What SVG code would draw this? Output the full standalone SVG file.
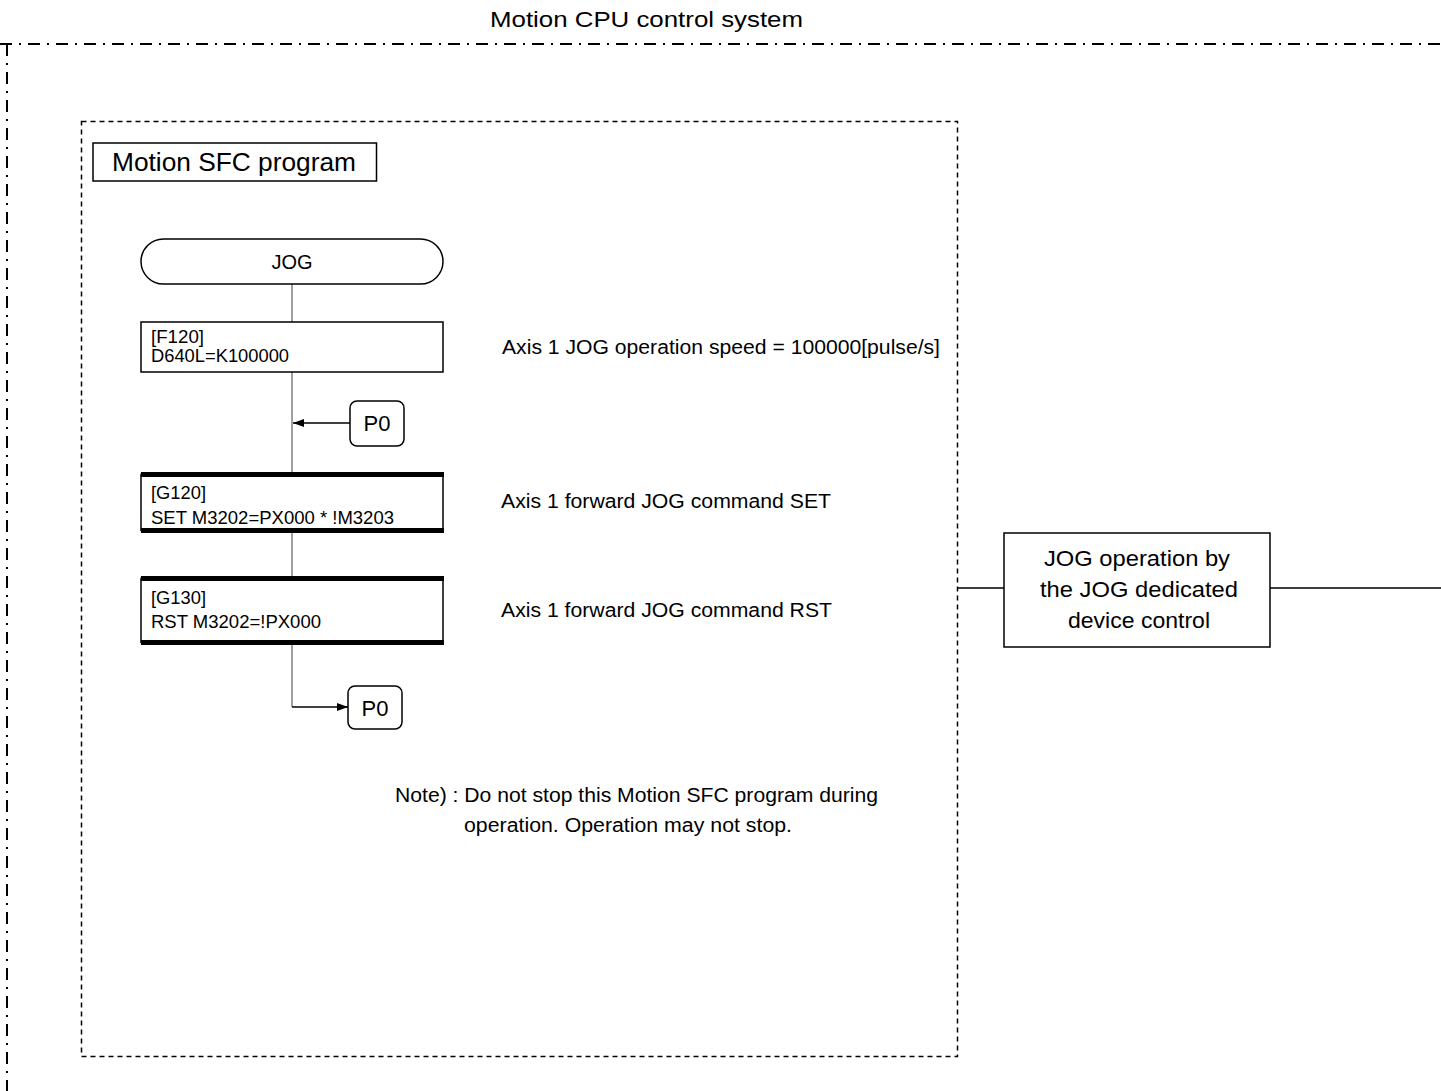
<svg xmlns="http://www.w3.org/2000/svg" width="1441" height="1091" viewBox="0 0 1441 1091">
<style>
text{font-family:"Liberation Sans",Arial,sans-serif;fill:#000}
.box{fill:#fff;stroke:#000;stroke-width:1.5}
.flow{stroke:#808080;stroke-width:1.5;fill:none}
.arr{stroke:#000;stroke-width:1.5;fill:none}
.bar{fill:#000}
.t18{font-size:18px}
.t20{font-size:20px}
.t22{font-size:22px}
</style>
<defs>
<marker id="ah" viewBox="0 0 11 8" refX="11" refY="4" markerWidth="11" markerHeight="8" markerUnits="userSpaceOnUse" orient="auto"><path d="M0,0 L11,4 L0,8 z" fill="#000"/></marker>
</defs>
<g id="frames">
<text x="490" y="27" class="t22" textLength="313" lengthAdjust="spacingAndGlyphs">Motion CPU control system</text>
<path d="M0,44 H1441 M7,44 V1091" fill="none" stroke="#000" stroke-width="2" stroke-dasharray="12 7 2 7"/>
<rect x="81.5" y="121.5" width="876" height="935" fill="none" stroke="#000" stroke-width="1.5" stroke-dasharray="5 4"/>
</g>
<g id="sfc-title"><rect x="93" y="143" width="283.5" height="38" class="box"/><text x="112" y="171" font-size="25" textLength="244" lengthAdjust="spacingAndGlyphs">Motion SFC program</text></g>
<g id="connectors">
<path class="flow" d="M292,284 V322 M292,372 V472 M292,533 V576 M292,645 V707"/>
<path class="arr" d="M350,423 H293" marker-end="url(#ah)"/>
<path class="arr" d="M292,707 H348" marker-end="url(#ah)"/>
<path class="arr" d="M958,588 H1004 M1270,588 H1441"/>
</g>
<g id="jog-start"><rect x="141" y="239" width="302" height="45" rx="22.5" class="box"/><text x="292" y="269" class="t20" text-anchor="middle">JOG</text></g>
<g id="f120"><rect x="141" y="322" width="302" height="50" class="box"/><text x="151" y="343" class="t18" textLength="53" lengthAdjust="spacingAndGlyphs">[F120]</text><text x="151" y="362" class="t18" textLength="138" lengthAdjust="spacingAndGlyphs">D640L=K100000</text></g>
<text x="502" y="354" class="t20" textLength="438" lengthAdjust="spacingAndGlyphs">Axis 1 JOG operation speed = 100000[pulse/s]</text>
<g id="p0-in"><rect x="350" y="401" width="54" height="45" rx="7" class="box"/><text x="377" y="431" class="t22" text-anchor="middle">P0</text></g>
<g id="g120"><rect x="141" y="474.5" width="302" height="56" class="box"/><rect x="141" y="472" width="303" height="5" class="bar"/><rect x="141" y="528" width="303" height="5" class="bar"/><text x="151" y="499" class="t18" textLength="55" lengthAdjust="spacingAndGlyphs">[G120]</text><text x="151" y="524" class="t18" textLength="243" lengthAdjust="spacingAndGlyphs">SET M3202=PX000 * !M3203</text></g>
<text x="501" y="508" class="t20" textLength="330" lengthAdjust="spacingAndGlyphs">Axis 1 forward JOG command SET</text>
<g id="g130"><rect x="141" y="578.5" width="302" height="64" class="box"/><rect x="141" y="576" width="303" height="5" class="bar"/><rect x="141" y="640" width="303" height="5" class="bar"/><text x="151" y="604" class="t18" textLength="55" lengthAdjust="spacingAndGlyphs">[G130]</text><text x="151" y="628" class="t18" textLength="170" lengthAdjust="spacingAndGlyphs">RST M3202=!PX000</text></g>
<text x="501" y="617" class="t20" textLength="331" lengthAdjust="spacingAndGlyphs">Axis 1 forward JOG command RST</text>
<g id="p0-out"><rect x="348" y="686" width="54" height="43" rx="7" class="box"/><text x="375" y="716" class="t22" text-anchor="middle">P0</text></g>
<g id="note"><text x="395" y="802" class="t20" textLength="483" lengthAdjust="spacingAndGlyphs">Note) : Do not stop this Motion SFC program during</text><text x="464" y="832" class="t20" textLength="328" lengthAdjust="spacingAndGlyphs">operation. Operation may not stop.</text></g>
<g id="jog-device"><rect x="1004" y="533" width="266" height="114" class="box"/><text x="1044" y="566" class="t22" textLength="186" lengthAdjust="spacingAndGlyphs">JOG operation by</text><text x="1040" y="597" class="t22" textLength="198" lengthAdjust="spacingAndGlyphs">the JOG dedicated</text><text x="1068" y="628" class="t22" textLength="142" lengthAdjust="spacingAndGlyphs">device control</text></g>
</svg>
